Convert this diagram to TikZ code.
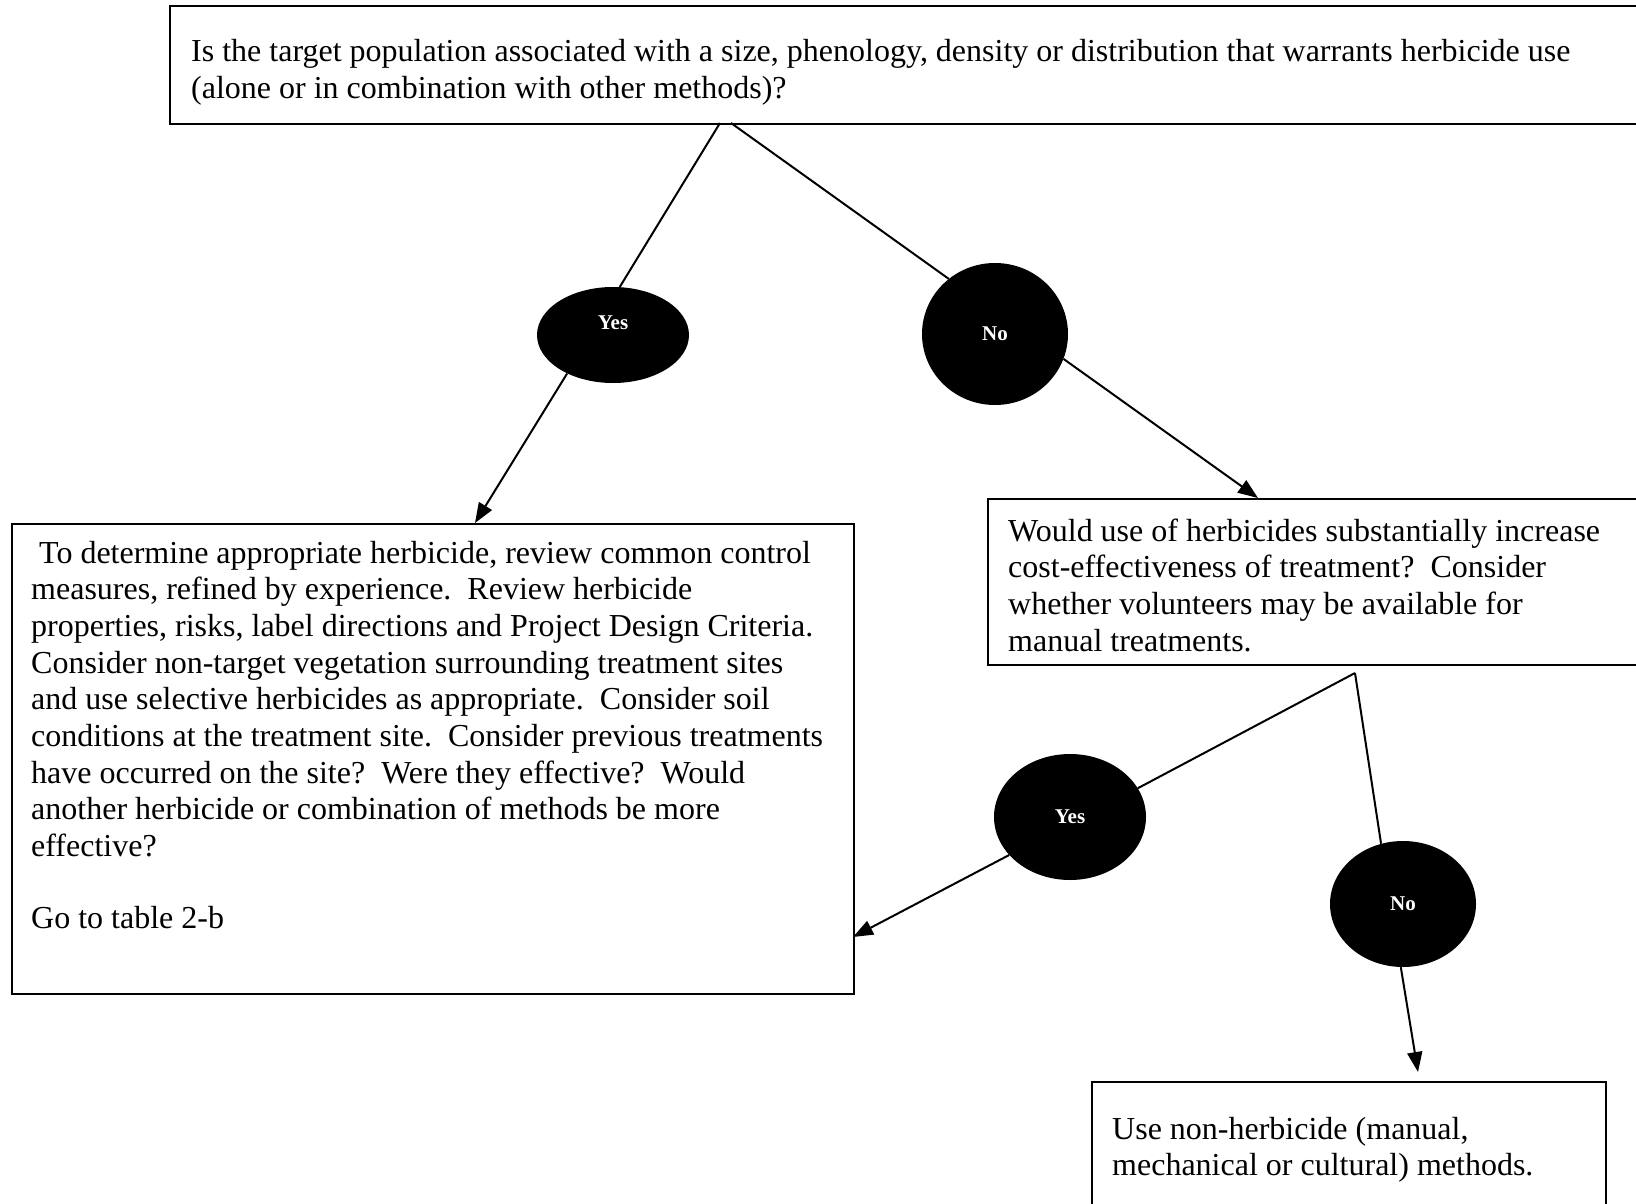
\documentclass[tikz,border=0pt]{standalone}
\usepackage{fontspec}
\setmainfont{Liberation Serif}
\usetikzlibrary{shapes.geometric,arrows.meta}
\newcommand\mylines[1]{\begin{tabular}[t]{@{}l@{}}#1\end{tabular}}
\begin{document}
\begin{tikzpicture}[x=1pt,y=-1pt,
  box/.style={draw,line width=2pt,rectangle,inner sep=0pt,anchor=north west},
  txt/.style={anchor=base west,inner sep=0pt,font=\fontsize{32}{36.7}\selectfont},
  oval/.style={ellipse,fill=black,inner sep=0pt,text=white,font=\fontsize{21}{24}\selectfont\bfseries},
  conn/.style={line width=2pt},
  arr/.style={conn,-{Triangle[length=20pt,width=15pt]}}]
\path[use as bounding box,fill=white] (0,0) rectangle (1636,1204);

% boxes
\node[box,minimum width=1476pt,minimum height=118pt] (top) at (169,5) {};
\node[box,minimum width=842pt,minimum height=470pt] (left) at (11,523) {};
\node[box,minimum width=658pt,minimum height=166pt] (right) at (987,498) {};
\node[box,minimum width=514pt,minimum height=134pt] (bottom) at (1091,1081) {};

% texts
\node[txt] (toptext) at (191,62) {\mylines{Is the target population associated with a size, phenology, density or distribution that warrants herbicide use\\
(alone or in combination with other methods)?}};
\node[txt] (lefttext) at (31,563) {\mylines{\ To determine appropriate herbicide, review common control\\
measures, refined by experience.\ \ Review herbicide\\
properties, risks, label directions and Project Design Criteria.\\
Consider non-target vegetation surrounding treatment sites\\
and use selective herbicides as appropriate.\ \ Consider soil\\
conditions at the treatment site.\ \ Consider previous treatments\\
have occurred on the site?\ \ Were they effective?\ \ Would\\
another herbicide or combination of methods be more\\
effective?\\[35.6pt]
Go to table 2-b}};
\node[txt] (righttext) at (1008,541) {\mylines{Would use of herbicides substantially increase\\
cost-effectiveness of treatment?\ \ Consider\\
whether volunteers may be available for\\
manual treatments.}};
\node[txt] (bottomtext) at (1112,1139) {\mylines{Use non-herbicide (manual,\\
mechanical or cultural) methods.}};

% ovals
\node[oval,minimum width=152pt,minimum height=96pt] (yes1) at (613,335) {\raisebox{24pt}{Yes}};
\node[oval,minimum width=146pt,minimum height=142pt] (no1) at (995,334) {No};
\node[oval,minimum width=152pt,minimum height=126pt] (yes2) at (1070,817) {Yes};
\node[oval,minimum width=146pt,minimum height=126pt] (no2) at (1403,904) {No};

% connector end points
\coordinate (a1l) at (720,123);
\coordinate (a1r) at (731,123);
\coordinate (a2) at (1355,673);
\coordinate (t1) at (475,523);
\coordinate (t2) at (1258,498);
\coordinate (t3) at (853,937);
\coordinate (t4) at (1418,1072);

\draw[conn] (a1l) -- (yes1.82);
\draw[arr] (yes1.220) -- (t1);
\draw[conn] (a1r) -- (no1.130);
\draw[arr] (no1.340) -- (t2);
\draw[conn] (a2) -- (yes2.23);
\draw[arr] (yes2.212) -- (t3);
\draw[conn] (a2) -- (no2.110);
\draw[arr] (no2.268) -- (t4);
\end{tikzpicture}
\end{document}
